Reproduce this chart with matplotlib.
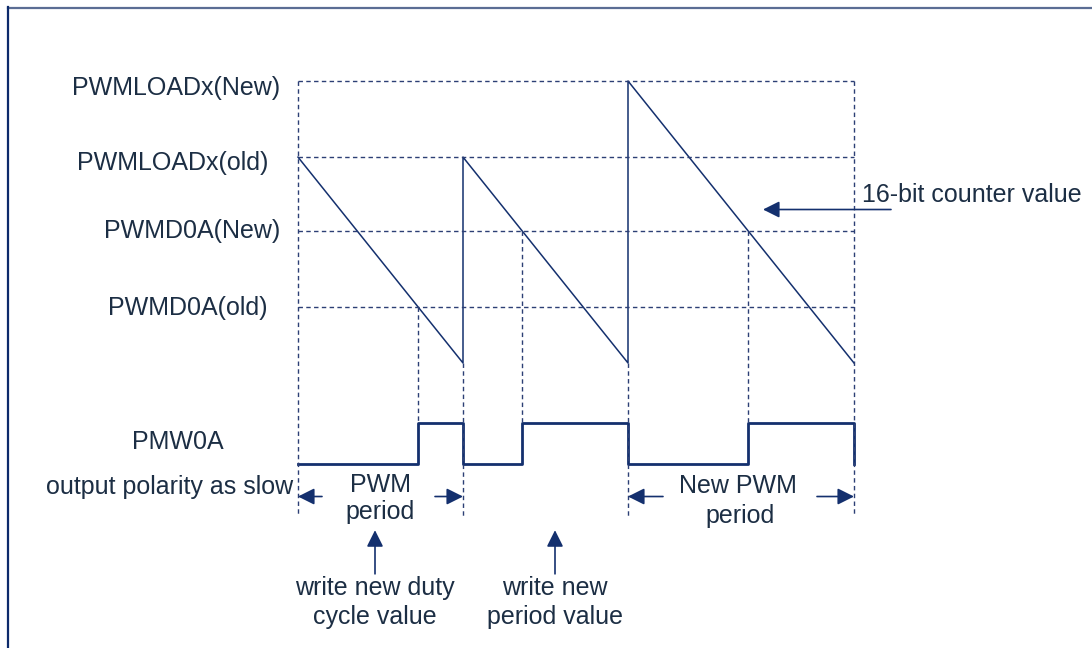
import numpy as np
import matplotlib.pyplot as plt

plt.rcParams['font.family'] = ['Liberation Sans', 'DejaVu Sans']

# counter levels (counts) and the three PWM periods
level_names = ['PWMLOADx(New)', 'PWMLOADx(old)', 'PWMD0A(New)', 'PWMD0A(old)']
level_values = [226, 165, 106, 45]
period_loads = [165, 165, 226]   # reload value for each period
period_duties = [45, 106, 106]   # compare value for each period
out_low, out_high = -81, -48     # output trace levels below the counter
marker_bottom = -123             # where the dashed time markers end

navy = '#14306e'
dash = '#2c3f75'
txt = '#1c2e44'

starts = np.concatenate([[0], np.cumsum(period_loads)[:-1]])
ends = starts + np.array(period_loads)
cross = starts + np.array(period_loads) - np.array(period_duties)

fig = plt.figure(figsize=(10.92, 6.48), dpi=100)
ax = fig.add_axes([0, 0, 1, 1])
ax.set_xlim(-298, 794)
ax.set_ylim(-228.4, 290.9)
ax.axis('off')

# sawtooth counter
saw_x, saw_y = [], []
for s, e, load in zip(starts, ends, period_loads):
    saw_x += [s, e]
    saw_y += [load, 0]
ax.plot(saw_x, saw_y, color=navy, lw=1.1)

# output waveform (low until counter drops under compare value)
wx, wy = [], []
for s, c, e in zip(starts, cross, ends):
    wx += [s, c, c, e, e]
    wy += [out_low, out_low, out_high, out_high, out_low]
ax.plot(wx, wy, color=navy, lw=2.0)

ds = (0, (3.2, 2.4))
for v in level_values:
    ax.plot([starts[0], ends[-1]], [v, v], color=dash, lw=1.0, ls=ds)
for t in [starts[0], ends[-1]]:
    ax.plot([t, t], [level_values[0], marker_bottom], color=dash, lw=1.0, ls=ds)
for t in ends[:-1]:
    ax.plot([t, t], [0, marker_bottom], color=dash, lw=1.0, ls=ds)
for t, d in zip(cross, period_duties):
    ax.plot([t, t], [d, out_high], color=dash, lw=1.0, ls=ds)

ap = dict(arrowstyle='-|>,head_length=1.0,head_width=0.5', color=navy, lw=1.2,
          shrinkA=0, shrinkB=0)
arrow_y = -107
for tail, head in [(24, starts[0]), (137, ends[0]), (365, starts[2]), (519, ends[2])]:
    ax.annotate('', xy=(head, arrow_y), xytext=(tail, arrow_y), arrowprops=ap)
for t in [77, 257]:
    ax.annotate('', xy=(t, -134), xytext=(t, -169), arrowprops=ap)
ax.annotate('', xy=(465, 123), xytext=(593, 123), arrowprops=ap)

# text and frame in pixel coordinates
ann = fig.add_axes([0, 0, 1, 1])
ann.set_xlim(0, 1092)
ann.set_ylim(648, 0)
ann.axis('off')
ann.patch.set_alpha(0)

ann.plot([8, 1092], [7.5, 7.5], color='#5b6d94', lw=1.6)
ann.plot([8, 8], [7, 648], color='#0d2a6b', lw=1.6)

fs = 18
label_pos = [(280, 88), (268, 163), (280, 231), (268, 308)]
for name, (x, y) in zip(level_names, label_pos):
    ann.text(x, y, name, ha='right', va='center', fontsize=fs, color=txt)
ann.text(178, 442, 'PMW0A', ha='center', va='center', fontsize=fs, color=txt)
ann.text(293, 487, 'output polarity as slow', ha='right', va='center', fontsize=fs, color=txt)
ann.text(380, 485, 'PWM', ha='center', va='center', fontsize=fs, color=txt)
ann.text(380, 512, 'period', ha='center', va='center', fontsize=fs, color=txt)
ann.text(738, 486, 'New PWM', ha='center', va='center', fontsize=fs, color=txt)
ann.text(740, 516, 'period', ha='center', va='center', fontsize=fs, color=txt)
ann.text(375, 588, 'write new duty', ha='center', va='center', fontsize=fs, color=txt)
ann.text(375, 617, 'cycle value', ha='center', va='center', fontsize=fs, color=txt)
ann.text(555, 588, 'write new', ha='center', va='center', fontsize=fs, color=txt)
ann.text(555, 617, 'period value', ha='center', va='center', fontsize=fs, color=txt)
ann.text(862, 195, '16-bit counter value', ha='left', va='center', fontsize=fs, color=txt)

fig.savefig('out.png', dpi=100)
